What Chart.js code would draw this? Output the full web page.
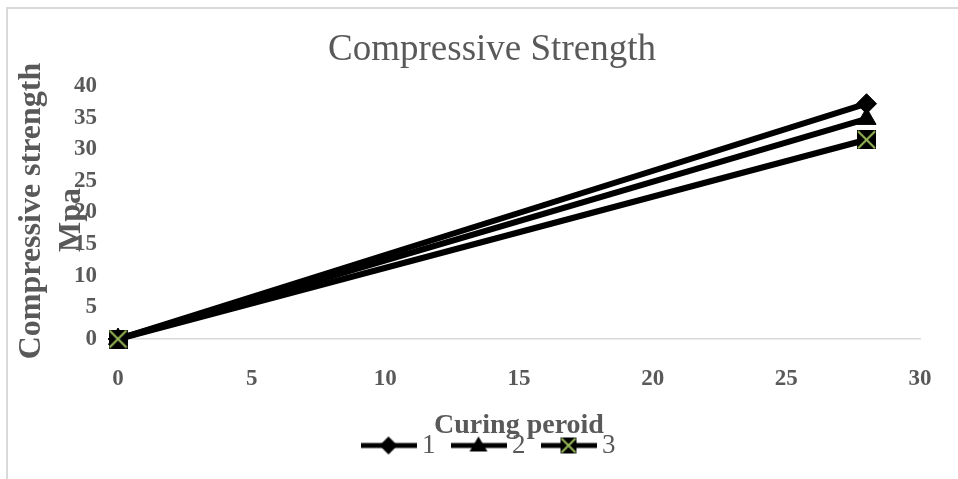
<!DOCTYPE html>
<html>
<head>
<meta charset="utf-8">
<script src="https://cdn.jsdelivr.net/npm/chart.js@4"></script>
<style>
  html, body { margin: 0; padding: 0; background: #fff; }
  canvas { display: block; }
</style>
</head>
<body>
<canvas id="chart" width="958" height="479"></canvas>
<script>
const curingDays = [0, 28]
const series1 = [0, 37.2]
const series2 = [0, 34.8]
const series3 = [0, 31.5]
const seriesNames = ['1', '2', '3']
const xTicks = [0, 5, 10, 15, 20, 25, 30]
const yTicks = [0, 5, 10, 15, 20, 25, 30, 35, 40]

const serif = "'Liberation Serif', 'Times New Roman', serif"
const gray = '#595959'
const green = '#9bbb59'

// black square with a green cross, used for series 3
function crossBox(size) {
  const c = document.createElement('canvas')
  c.width = size
  c.height = size
  const ctx = c.getContext('2d')
  ctx.fillStyle = '#000'
  ctx.fillRect(0, 0, size, size)
  ctx.strokeStyle = green
  ctx.lineWidth = 2
  ctx.beginPath()
  ctx.moveTo(1, 1)
  ctx.lineTo(size - 1, size - 1)
  ctx.moveTo(size - 1, 1)
  ctx.lineTo(1, size - 1)
  ctx.stroke()
  return c
}

// line + marker picture for the legend
function legendIcon(kind) {
  const c = document.createElement('canvas')
  c.width = 56
  c.height = 22
  const ctx = c.getContext('2d')
  ctx.strokeStyle = '#000'
  ctx.lineWidth = 5
  ctx.beginPath()
  ctx.moveTo(0, 11)
  ctx.lineTo(56, 11)
  ctx.stroke()
  ctx.fillStyle = '#000'
  ctx.beginPath()
  if (kind === 'diamond') {
    ctx.moveTo(28, 2); ctx.lineTo(37, 11); ctx.lineTo(28, 20); ctx.lineTo(19, 11)
    ctx.fill()
  } else if (kind === 'triangle') {
    ctx.moveTo(28, 2); ctx.lineTo(37, 17); ctx.lineTo(19, 17)
    ctx.fill()
  } else {
    ctx.drawImage(crossBox(16), 20, 3)
  }
  return c
}

const markerCross = crossBox(19)
const icons = [legendIcon('diamond'), legendIcon('triangle'), legendIcon('cross')]

const frame = {
  id: 'frame',
  beforeDraw(chart) {
    const ctx = chart.ctx
    ctx.save()
    ctx.strokeStyle = '#d9d9d9'
    ctx.lineWidth = 2
    ctx.beginPath()
    ctx.moveTo(7, 479)
    ctx.lineTo(7, 8)
    ctx.lineTo(958, 8)
    ctx.stroke()
    ctx.restore()
  },
  afterDraw(chart) {
    const ctx = chart.ctx
    ctx.save()
    ctx.fillStyle = gray
    ctx.textAlign = 'center'
    ctx.textBaseline = 'alphabetic'
    ctx.font = `bold 28px ${serif}`
    ctx.fillText('Curing peroid', 519, 433)
    ctx.font = `bold 32px ${serif}`
    ctx.save()
    ctx.translate(0, 211)
    ctx.rotate(-Math.PI / 2)
    ctx.fillText('Compressive strength', 0, 40)
    ctx.restore()
    ctx.translate(0, 220)
    ctx.rotate(-Math.PI / 2)
    ctx.fillText('Mpa', 0, 80)
    ctx.restore()
  },
}

const toPoints = (vals) => curingDays.map((d, i) => ({ x: d, y: vals[i] }))

new Chart(document.getElementById('chart'), {
  type: 'line',
  data: {
    datasets: [
      {
        label: seriesNames[0],
        data: toPoints(series1),
        borderColor: '#000',
        backgroundColor: '#000',
        borderWidth: 6,
        pointStyle: 'rectRot',
        pointRadius: 10,
        pointBorderWidth: 1,
        clip: false,
        order: 2,
      },
      {
        label: seriesNames[1],
        data: toPoints(series2),
        borderColor: '#000',
        backgroundColor: '#000',
        borderWidth: 6,
        pointStyle: 'triangle',
        pointRadius: 11,
        pointBorderWidth: 1,
        clip: false,
        order: 1,
      },
      {
        label: seriesNames[2],
        data: toPoints(series3),
        borderColor: '#000',
        backgroundColor: '#000',
        borderWidth: 6,
        pointStyle: markerCross,
        clip: false,
        order: 0,
      },
    ],
  },
  options: {
    responsive: false,
    animation: false,
    layout: { padding: { left: 64, right: 38, top: 0, bottom: 10 } },
    scales: {
      x: {
        type: 'linear',
        min: 0,
        max: 30,
        afterBuildTicks: (s) => { s.ticks = xTicks.map((v) => ({ value: v })) },
        afterFit: (s) => { s.height = 70 },
        grid: { display: false, drawTicks: false },
        border: { display: true, color: '#d9d9d9', width: 1.5 },
        ticks: {
          padding: 26,
          color: gray,
          font: { family: serif, size: 23, weight: 'bold' },
          maxRotation: 0,
        },
      },
      y: {
        min: 0,
        max: 40,
        afterBuildTicks: (s) => { s.ticks = yTicks.map((v) => ({ value: v })) },
        afterFit: (s) => { s.width = 54 },
        grid: { display: false, drawTicks: false },
        border: { display: false },
        ticks: {
          padding: 21,
          color: gray,
          font: { family: serif, size: 23, weight: 'bold' },
        },
      },
    },
    plugins: {
      title: {
        display: true,
        text: 'Compressive Strength',
        color: gray,
        font: { family: serif, size: 37, weight: 'normal', lineHeight: 1.2 },
        padding: { top: 28, bottom: 13.6 },
      },
      legend: {
        position: 'bottom',
        labels: {
          usePointStyle: true,
          pointStyleWidth: 40,
          padding: 23,
          color: gray,
          font: { family: serif, size: 27, lineHeight: 1 },
          generateLabels: (chart) =>
            chart.data.datasets.map((ds, i) => ({
              text: ds.label,
              pointStyle: icons[i],
              fillStyle: '#000',
              strokeStyle: '#000',
              lineWidth: 0,
              fontColor: gray,
              hidden: false,
              datasetIndex: i,
            })),
        },
      },
      tooltip: { enabled: false },
    },
  },
  plugins: [frame],
})
</script>
</body>
</html>
